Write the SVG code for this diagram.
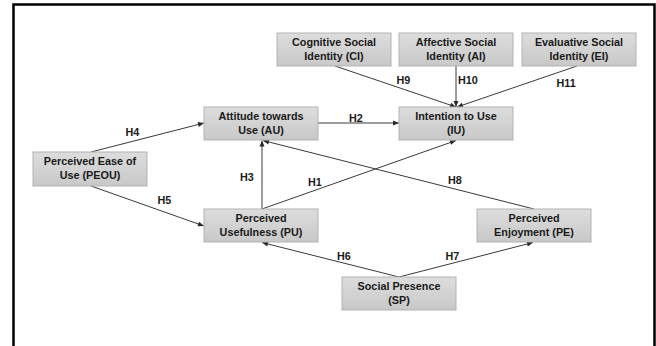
<svg xmlns="http://www.w3.org/2000/svg" width="656" height="346" viewBox="0 0 656 346">
<style>
.box{fill:url(#g);stroke:#b3b3b3;stroke-width:1}
.t{font-family:"Liberation Sans",Arial,sans-serif;font-weight:bold;font-size:10.8px;fill:#1a1a1a;text-anchor:middle}
.lbl{font-family:"Liberation Sans",Arial,sans-serif;font-weight:bold;font-size:10.8px;fill:#1a1a1a}
.c{stroke:#3a3a3a;stroke-width:1;fill:none;marker-end:url(#a)}
</style>
<defs>
<linearGradient id="g" x1="0" y1="0" x2="0" y2="1">
<stop offset="0" stop-color="#dddddd"/>
<stop offset="1" stop-color="#c8c8c8"/>
</linearGradient>
<marker id="a" markerUnits="userSpaceOnUse" markerWidth="8" markerHeight="8" viewBox="0 0 8 8" refX="7" refY="4" orient="auto">
<path d="M1,1.5 L7,4 L1,6.5 Z" fill="#2a2a2a"/>
</marker>
</defs>
<rect width="656" height="346" fill="#ffffff"/>
<path d="M13.5,346 V4.5 H654.5 V346" fill="none" stroke="#000" stroke-width="2.5"/>

<g id="connectors">
<line class="c" x1="335" y1="66" x2="456" y2="107"/>
<line class="c" x1="456" y1="66" x2="456" y2="107"/>
<line class="c" x1="577" y1="66" x2="457" y2="107"/>
<line class="c" x1="318" y1="123" x2="399" y2="123"/>
<line class="c" x1="91" y1="152" x2="204" y2="123"/>
<line class="c" x1="91" y1="186" x2="204" y2="226"/>
<line class="c" x1="262" y1="209" x2="262" y2="140.5"/>
<line class="c" x1="262" y1="209" x2="456" y2="140.5"/>
<line class="c" x1="534" y1="209" x2="263" y2="140.5"/>
<line class="c" x1="399" y1="277" x2="262" y2="242.5"/>
<line class="c" x1="399" y1="277" x2="533" y2="242.5"/>
<text class="lbl" x="396.5" y="84">H9</text>
<text class="lbl" x="458" y="84">H10</text>
<text class="lbl" x="556.5" y="86.5">H11</text>
<text class="lbl" x="349" y="121.5">H2</text>
<text class="lbl" x="125.5" y="136">H4</text>
<text class="lbl" x="240" y="181">H3</text>
<text class="lbl" x="308" y="186">H1</text>
<text class="lbl" x="448" y="184">H8</text>
<text class="lbl" x="157.5" y="204">H5</text>
<text class="lbl" x="337" y="260">H6</text>
<text class="lbl" x="445.5" y="260">H7</text>
</g>

<g id="CI">
<rect class="box" x="277" y="33" width="114" height="33"/>
<text class="t" x="334" y="45.7">Cognitive Social</text>
<text class="t" x="334" y="60">Identity (CI)</text>
</g>
<g id="AI">
<rect class="box" x="399" y="33" width="114" height="33"/>
<text class="t" x="456" y="45.7">Affective Social</text>
<text class="t" x="456" y="60">Identity (AI)</text>
</g>
<g id="EI">
<rect class="box" x="522" y="33" width="114" height="33"/>
<text class="t" x="579" y="45.7">Evaluative Social</text>
<text class="t" x="579" y="60">Identity (EI)</text>
</g>
<g id="AU">
<rect class="box" x="204" y="107" width="114" height="33"/>
<text class="t" x="261" y="119.5">Attitude towards</text>
<text class="t" x="261" y="133.5">Use (AU)</text>
</g>
<g id="IU">
<rect class="box" x="399" y="107" width="114" height="33"/>
<text class="t" x="456" y="119.5">Intention to Use</text>
<text class="t" x="456" y="133.5">(IU)</text>
</g>
<g id="PEOU">
<rect class="box" x="33" y="152" width="114" height="34"/>
<text class="t" x="90" y="164.7">Perceived Ease of</text>
<text class="t" x="90" y="179">Use (PEOU)</text>
</g>
<g id="PU">
<rect class="box" x="204" y="209" width="114" height="33"/>
<text class="t" x="261" y="221.5">Perceived</text>
<text class="t" x="261" y="235.5">Usefulness (PU)</text>
</g>
<g id="PE">
<rect class="box" x="477" y="209" width="114" height="33"/>
<text class="t" x="534" y="221.5">Perceived</text>
<text class="t" x="534" y="235.5">Enjoyment (PE)</text>
</g>
<g id="SP">
<rect class="box" x="342" y="277" width="114" height="33"/>
<text class="t" x="399" y="289.5">Social Presence</text>
<text class="t" x="399" y="303.5">(SP)</text>
</g>
</svg>
